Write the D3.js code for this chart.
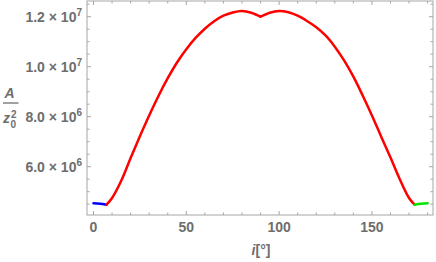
<!DOCTYPE html>
<html>
<head>
<meta charset="utf-8">
<script src="https://cdn.jsdelivr.net/npm/d3@7"></script>
<style>
  body { margin: 0; background: #fff; }
  text { font-family: "Liberation Sans", Arial, sans-serif; font-weight: bold; fill: #6e6e6e; }
</style>
</head>
<body>
<div id="chart-area"></div>
<script>
// inclination i (deg) and area A / z0^2
const blueI = [0, 3.5, 7]
const blueA = [4.535e6, 4.52e6, 4.48e6]

const redI = [7, 10, 15, 20, 25, 30, 35, 40, 45, 50, 55, 60, 65, 70, 75, 80, 85, 90,
              95, 100, 105, 110, 115, 120, 125, 130, 135, 140, 145, 150, 155, 160, 165, 170, 173]
const redA = [4.48e6, 4.75e6, 5.45e6, 6.35e6, 7.22e6, 8.05e6, 8.83e6, 9.54e6, 10.17e6, 10.7e6,
              11.15e6, 11.52e6, 11.82e6, 12.04e6, 12.17e6, 12.23e6, 12.16e6, 12.0e6,
              12.16e6, 12.23e6, 12.18e6, 12.04e6, 11.83e6, 11.58e6, 11.25e6, 10.8e6, 10.25e6,
              9.6e6, 8.85e6, 8.05e6, 7.2e6, 6.37e6, 5.5e6, 4.75e6, 4.48e6]

const greenI = [173, 176.5, 180]
const greenA = [4.48e6, 4.52e6, 4.535e6]

const xTicks = [0, 50, 100, 150]
const yTicks = [6e6, 8e6, 1e7, 1.2e7]
const yTickLabels = [["6.0", "6"], ["8.0", "6"], ["1.0", "7"], ["1.2", "7"]]

const w = 436, h = 262
const pl = 87, pr = 433, pt = 1, pb = 215

const svg = d3.select("#chart-area")
              .append("svg")
              .attr("width", w)
              .attr("height", h)

const x = d3.scaleLinear().domain([-3.5, 182.9]).range([pl, pr])
const y = d3.scaleLinear().domain([4.068e6, 12.628e6]).range([pb, pt])

const frameColor = "#a6a6a6"

// frame
svg.append("rect")
   .attr("x", pl).attr("y", pt)
   .attr("width", pr - pl).attr("height", pb - pt)
   .attr("fill", "none")
   .attr("stroke", frameColor)
   .attr("stroke-width", 1)

// ticks, inward on all four sides
const xMinor = d3.range(0, 181, 10)
const yMinor = d3.range(4.5e6, 12.6e6, 5e5)

xMinor.forEach(v => {
  const len = xTicks.includes(v) ? 4 : 2.5
  svg.append("line").attr("x1", x(v)).attr("x2", x(v))
     .attr("y1", pb).attr("y2", pb - len)
     .attr("stroke", frameColor)
  svg.append("line").attr("x1", x(v)).attr("x2", x(v))
     .attr("y1", pt).attr("y2", pt + len)
     .attr("stroke", frameColor)
})

yMinor.forEach(v => {
  const len = yTicks.some(t => Math.abs(t - v) < 1) ? 4 : 2.5
  svg.append("line").attr("y1", y(v)).attr("y2", y(v))
     .attr("x1", pl).attr("x2", pl + len)
     .attr("stroke", frameColor)
  svg.append("line").attr("y1", y(v)).attr("y2", y(v))
     .attr("x1", pr).attr("x2", pr - len)
     .attr("stroke", frameColor)
})

// x tick labels
svg.selectAll(".xlab")
   .data(xTicks)
   .enter()
   .append("text")
   .attr("class", "xlab")
   .attr("x", d => x(d))
   .attr("y", 232)
   .attr("text-anchor", "middle")
   .attr("font-size", 14)
   .text(d => d)

// y tick labels  m × 10^e
yTicks.forEach((t, i) => {
  const lab = svg.append("text")
     .attr("x", 82)
     .attr("y", y(t) + 5.5)
     .attr("text-anchor", "end")
     .attr("font-size", 14)
  lab.append("tspan").text(yTickLabels[i][0] + " \u00d7 10")
  lab.append("tspan").attr("dy", -6).attr("font-size", 10).text(yTickLabels[i][1])
})

// axis titles
const xt = svg.append("text")
   .attr("x", 261).attr("y", 255)
   .attr("text-anchor", "middle")
   .attr("font-size", 14)
xt.append("tspan").attr("font-style", "italic").text("i")
xt.append("tspan").text("[\u00b0]")

svg.append("text")
   .attr("x", 9.5).attr("y", 98)
   .attr("text-anchor", "middle")
   .attr("font-size", 14)
   .attr("font-style", "italic")
   .text("A")
svg.append("line")
   .attr("x1", 3).attr("x2", 18.5)
   .attr("y1", 103).attr("y2", 103)
   .attr("stroke", "#6e6e6e").attr("stroke-width", 1.3)
const zt = svg.append("text")
   .attr("x", 3).attr("y", 123)
   .attr("font-size", 14)
zt.append("tspan").attr("font-style", "italic").text("z")
svg.append("text").attr("x", 10.5).attr("y", 128).attr("font-size", 10).text("0")
svg.append("text").attr("x", 11).attr("y", 117.5).attr("font-size", 10).text("2")

// curves
const line = d3.line()
               .x(d => x(d[0]))
               .y(d => y(d[1]))
               .curve(d3.curveCatmullRom.alpha(0.5))

const zip = (a, b) => a.map((v, i) => [v, b[i]])
const red = zip(redI, redA)
const mid = redI.indexOf(90)

const series = [
  { pts: zip(blueI, blueA), color: "#0000ff" },
  { pts: red.slice(0, mid + 1), color: "#ff0000" },
  { pts: red.slice(mid), color: "#ff0000" },
  { pts: zip(greenI, greenA), color: "#00e600" }
]

svg.selectAll(".curve")
   .data(series)
   .enter()
   .append("path")
   .attr("class", "curve")
   .attr("d", d => line(d.pts))
   .attr("fill", "none")
   .attr("stroke", d => d.color)
   .attr("stroke-width", 2.5)
   .attr("stroke-linecap", "round")
</script>
</body>
</html>
